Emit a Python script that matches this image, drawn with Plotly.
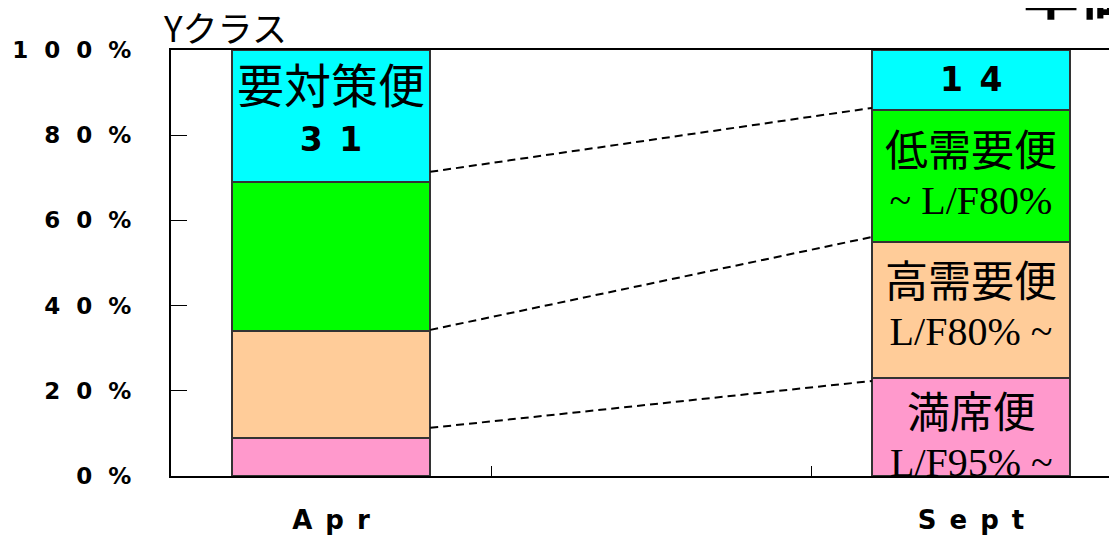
import plotly.graph_objects as go

# ---------------- data ----------------
categories = ["Apr", "", "Sept"]
segment_names = ["満席便", "高需要便", "低需要便", "要対策便"]
segment_colors = ["#FF99CC", "#FFCC99", "#00FF00", "#00FFFF"]

# share of flights (%), bottom -> top
share_manseki = [9, None, 23]
share_koujuyou = [25, None, 32]
share_teijuyou = [35, None, 31]
share_youtaisaku = [31, None, 14]

# labels inside the bars
jp_manseki = ["", None, "満席便"]
jp_koujuyou = ["", None, "高需要便"]
jp_teijuyou = ["", None, "低需要便"]
jp_youtaisaku = ["要対策便", None, ""]
lf_manseki = ["", None, "L/F95% ~"]
lf_koujuyou = ["", None, "L/F80% ~"]
lf_teijuyou = ["", None, "~ L/F80%"]
lf_youtaisaku = ["", None, ""]

# dashed connector levels (%), Apr -> Sept
connector_apr = [11.3, 34.3, 71.4]
connector_sept = [22.3, 56.1, 86.4]

y_tick_values = [0, 20, 40, 60, 80, 100]
y_title = "Yクラス"
chart_title = "単価"

# ---------------- helpers ----------------
FS = "\u2007"  # figure space to widen the lettering
EN = "\u2002"


def spaced(s, sp=FS):
    return sp.join(list(s))


x_pos = list(range(len(categories)))
bar_width = 0.62

series = [share_manseki, share_koujuyou, share_teijuyou, share_youtaisaku]
jp_all = [jp_manseki, jp_koujuyou, jp_teijuyou, jp_youtaisaku]
lf_all = [lf_manseki, lf_koujuyou, lf_teijuyou, lf_youtaisaku]
show_count = [False, False, False, True]

# pixel nudges for label placement (style only)
label_nudge = {(3, 0): 13, (3, 2): 0, (2, 2): 6, (1, 2): 9, (0, 2): -4}
jp_size = {(3, 0): 47}

fig = go.Figure()
for name, color, vals in zip(segment_names, segment_colors, series):
    fig.add_trace(go.Bar(
        x=x_pos, y=vals, name=name, width=bar_width,
        marker=dict(color=color, line=dict(color="#333333", width=2)),
        hoverinfo="skip", showlegend=False,
    ))

for ya, ys in zip(connector_apr, connector_sept):
    fig.add_trace(go.Scatter(
        x=[x_pos[0] + bar_width / 2, x_pos[2] - bar_width / 2], y=[ya, ys],
        mode="lines", line=dict(color="black", width=2, dash="8px,5px"),
        hoverinfo="skip", showlegend=False,
    ))

annotations = []
for s, vals in enumerate(series):
    for i, v in enumerate(vals):
        if v is None:
            continue
        parts = []
        jp = jp_all[s][i]
        lf = lf_all[s][i]
        if jp:
            parts.append(
                f"<span style='font-size:{jp_size.get((s, i), 43)}px'>{jp}</span>")
        if lf:
            parts.append(
                f"<span style='font-family:Liberation Serif;font-size:40px'>{lf}</span>")
        if show_count[s]:
            parts.append(
                "<span style='font-family:DejaVu Sans;font-weight:bold;"
                f"font-size:33px'>{EN.join(str(v))}</span>")
        if not parts:
            continue
        base = sum(series[k][i] for k in range(s))
        annotations.append(dict(
            text="<br>".join(parts), xref="x", yref="y",
            x=x_pos[i], y=base + v / 2, yshift=label_nudge.get((s, i), 0),
            showarrow=False, align="center",
            font=dict(family="Noto Sans CJK JP", size=37, color="black"),
        ))

annotations += [
    dict(text=y_title, xref="paper", yref="paper", x=0, y=1,
         xanchor="left", yanchor="middle", xshift=-10, yshift=24,
         showarrow=False,
         font=dict(family="Noto Sans CJK JP", size=35, color="black")),
    dict(text=f"<b>{chart_title}</b>", xref="paper", yref="paper",
         x=(1013 - 163) / 946, y=1, xanchor="left", yanchor="middle",
         yshift=61, showarrow=False,
         font=dict(family="Noto Sans CJK JP", size=56, color="black")),
]

fig.update_layout(
    barmode="stack",
    width=1109, height=528,
    margin=dict(l=163, r=0, t=42, b=60),
    paper_bgcolor="white", plot_bgcolor="white",
    font=dict(family="DejaVu Sans", color="black"),
    xaxis=dict(
        range=[-0.5, 2.456],
        tickvals=x_pos, ticktext=[spaced(c, EN) for c in categories],
        ticks="", showgrid=False, zeroline=False,
        showline=True, linecolor="black", linewidth=2, mirror=True,
        tickfont=dict(family="DejaVu Sans", size=26, color="black",
                      weight="bold"),
        ticklabelstandoff=20,
        minor=dict(tickvals=[p + 0.5 for p in x_pos[:-1]], ticks="inside",
                   ticklen=10, tickwidth=1, tickcolor="black", showgrid=False),
    ),
    yaxis=dict(
        range=[0, 100],
        tickvals=y_tick_values,
        ticktext=[spaced(f"{v}%") for v in y_tick_values],
        ticks="inside", ticklen=16, tickwidth=1, tickcolor="black",
        showgrid=False, zeroline=False,
        showline=True, linecolor="black", linewidth=2,
        tickfont=dict(family="DejaVu Sans", size=23, color="black",
                      weight="bold"),
        ticklabelstandoff=33,
    ),
    annotations=annotations,
)

fig.write_html("out.html")
